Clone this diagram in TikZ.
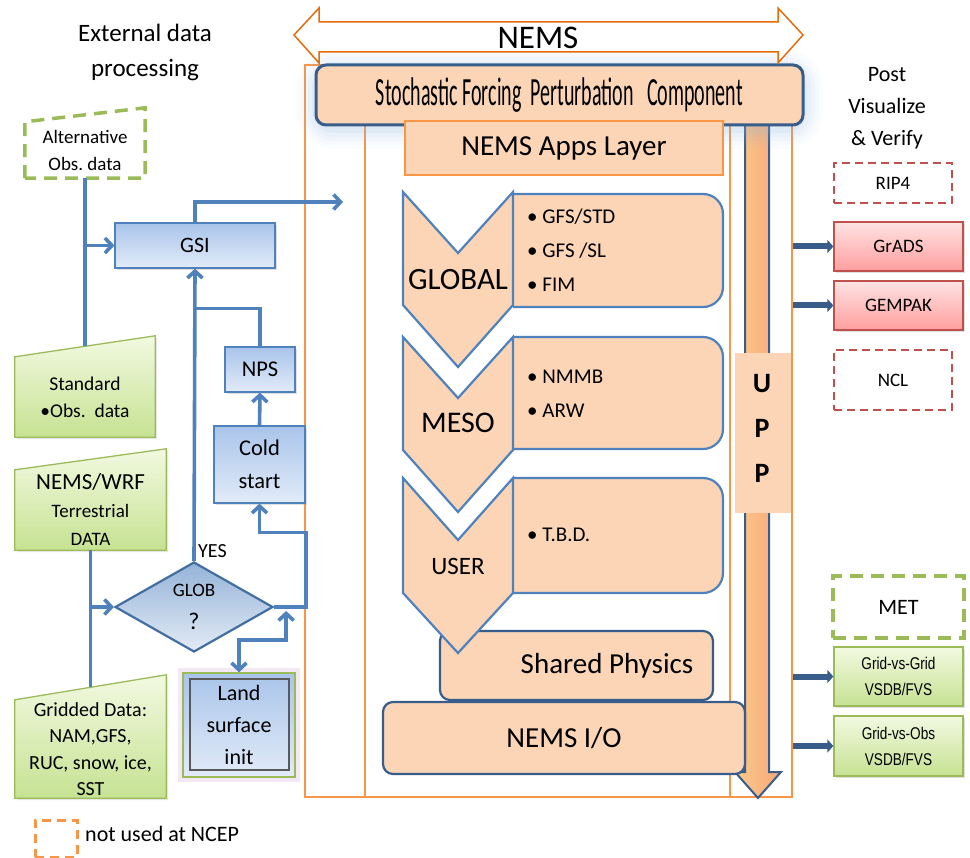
\documentclass[tikz,border=0pt]{standalone}
\usepackage{fontspec}
\setmainfont{Carlito}
\newfontfamily\arialf{Liberation Sans}
\usetikzlibrary{arrows.meta,shapes.geometric,calc,shadows}
\definecolor{orF}{HTML}{F79646}
\definecolor{orD}{HTML}{E46C0A}
\definecolor{peach}{HTML}{FBD5B5}
\definecolor{fblue}{HTML}{4F81BD}
\definecolor{dblue}{HTML}{385D8A}
\definecolor{gBorder}{HTML}{9BBB59}
\definecolor{gTop}{HTML}{F2F9E1}
\definecolor{gBot}{HTML}{C6E292}
\definecolor{bTop}{HTML}{A9C4EA}
\definecolor{bBot}{HTML}{E2EBF8}
\definecolor{rBorder}{HTML}{C0504D}
\definecolor{pTop}{HTML}{FFE3E3}
\definecolor{pBot}{HTML}{FF9E9E}
\definecolor{glowB}{HTML}{8DB4E2}
\definecolor{upL}{HTML}{FBCB8A}
\definecolor{upR}{HTML}{F9A678}
\definecolor{dTop}{HTML}{95B3D7}
\definecolor{dBot}{HTML}{E3EBF6}
\newcommand\fsz[1]{\fontsize{#1}{#1}\selectfont}
\newcommand\fsl[2]{\fontsize{#1}{#2}\selectfont}
\pgfdeclarelayer{bgl}
\pgfsetlayers{bgl,main}
\tikzset{
  frameline/.style={draw=orF, line width=2pt},
  flow/.style={draw=fblue, line width=3.6pt},
  fa/.style={-{Straight Barb[length=7pt,width=15pt]}},
  fab/.style={{Straight Barb[length=7pt,width=15pt]}-{Straight Barb[length=7pt,width=15pt]}},
  fat/.style={draw=dblue, line width=6pt, -{Triangle[length=6pt,width=13pt]}},
  bluebox/.style={draw=fblue, line width=1.2pt, top color=bTop, bottom color=bBot, inner sep=0pt, align=center,
    drop shadow={opacity=0.25, shadow xshift=2pt, shadow yshift=-2pt}},
  gshape/.style={draw=gBorder, line width=1.3pt, top color=gTop, bottom color=gBot},
  gtext/.style={inner sep=0pt, align=center},
  gdash/.style={draw=gBorder, line width=3.5pt, dash pattern=on 13pt off 8pt},
  rdash/.style={draw=rBorder, line width=2.5pt, dash pattern=on 8pt off 5pt, inner sep=0pt, font=\fsz{19}},
  pinkbox/.style={draw=rBorder, line width=1.3pt, top color=pTop, bottom color=pBot, inner sep=0pt, font=\fsz{19},
    drop shadow={opacity=0.25, shadow xshift=2pt, shadow yshift=-2pt}},
  greenbox/.style={draw=gBorder, line width=1.3pt, top color=gTop, bottom color=gBot, inner sep=0pt, align=center,
    font=\arialf\fsl{17}{26}, drop shadow={opacity=0.25, shadow xshift=2pt, shadow yshift=-2pt}},
  cbox/.style={draw=fblue, line width=2.2pt, fill=peach, rounded corners=20pt, inner sep=0pt},
  chev/.style={draw=fblue, line width=2.2pt, fill=peach, line join=miter},
  pbox/.style={draw=dblue, line width=2.2pt, fill=peach, rounded corners=10pt, inner sep=0pt},
  btxt/.style={inner sep=0pt, anchor=west, align=left, font=\fsl{21}{34}},
}
\begin{document}
\begin{tikzpicture}[x=1pt,y=-1pt]
\useasboundingbox (0,0) rectangle (970,858);

% ---------- NEMS frame ----------
\node[frameline, minimum width=487pt, minimum height=732pt, inner sep=0pt] (frame) at (548.5,431) {};
\node[frameline, minimum width=365pt, minimum height=672pt, inner sep=0pt] (inner) at (547.5,461) {};

% UPP arrow
\draw[draw=dblue, line width=2pt, left color=upL, right color=upR, line join=miter]
  (745,110) -- (769,110) -- (769,772) -- (781,772) -- (758,798) -- (735,772) -- (745,772) -- cycle;
\node[fill=peach, minimum width=56pt, minimum height=160pt, inner sep=0pt] (uppbox) at (763,433) {};
\node[align=center, font=\bfseries\fsl{28}{45}, inner sep=0pt] (upptxt) at (762,428) {U\\P\\P};

% glow + stochastic box
\foreach \w/\o in {40/0.035, 32/0.045, 24/0.06, 16/0.08, 8/0.1} {
  \draw[glowB, line width=\w pt, opacity=\o, rounded corners=18pt] (316,69) rectangle (803,129);
}
\node[draw=dblue, line width=3pt, fill=peach, rounded corners=10pt, minimum width=487pt, minimum height=60pt, inner sep=0pt]
  (sfpc) at (559.5,95) {\scalebox{0.5}[1]{\fsz{40}Stochastic Forcing\ \ Perturbation\ \ \ Component}};

% NEMS double arrow
\draw[draw=orD, line width=1.5pt, fill=white, line join=miter]
  (294,35) -- (319,8) -- (319,22) -- (778,22) -- (778,8) -- (803,35) -- (778,63) -- (778,52) -- (319,52) -- (319,63) -- cycle;
\node[font=\fsz{33}, inner sep=0pt] (nemst) at (538,38) {NEMS};

% Apps layer
\node[draw=orF, line width=1.5pt, fill=peach, minimum width=318pt, minimum height=54pt, inner sep=0pt, font=\fsz{29}]
  (apps) at (564,148) {NEMS Apps Layer};

% content boxes
\begin{scope}
\clip (513,0) rectangle (970,858);
\node[cbox, minimum width=270pt, minimum height=113pt] (globbox) at (588,250.5) {};
\node[cbox, minimum width=270pt, minimum height=112pt] (mesobox) at (588,393) {};
\node[cbox, minimum width=270pt, minimum height=115pt] (userbox) at (588,535.5) {};
\end{scope}
\node[btxt] (bglob) at (527,250) {\textbullet\ GFS/STD\\\textbullet\ GFS /SL\\\textbullet\ FIM};
\node[btxt] (bmeso) at (527,393.5) {\textbullet\ NMMB\\\textbullet\ ARW};
\node[btxt] (buser) at (527,535) {\textbullet\ T.B.D.};

% shared physics and I/O
\node[pbox, minimum width=273pt, minimum height=69pt, font=\fsz{29}] (shared) at (576.5,665.5) {\hspace*{61pt}Shared Physics};
\node[pbox, minimum width=362pt, minimum height=72pt, font=\fsz{29}] (nemsio) at (564,738) {NEMS I/O};

% chevrons
\draw[chev] (403,192) -- (458,253) -- (513,192) -- (513,305) -- (458,367) -- (403,305) -- cycle;
\draw[chev] (403,337) -- (458,398) -- (513,337) -- (513,450) -- (458,512) -- (403,450) -- cycle;
\draw[chev] (403,478) -- (458,540) -- (513,478) -- (513,593) -- (458,653) -- (403,593) -- cycle;
\node[font=\fsz{31}, inner sep=0pt] (tglob) at (458,280) {GLOBAL};
\node[font=\fsz{30}, inner sep=0pt] (tmeso) at (458,423) {MESO};
\node[font=\fsz{25}, inner sep=0pt] (tuser) at (458,566) {USER};

% ---------- left side ----------
\node[align=center, font=\fsl{25}{35}, inner sep=0pt] (ext) at (145,52) {External data\\processing};

\node[gtext, minimum width=120pt, minimum height=56pt, font=\fsl{19}{27}] (alt) at (85,150) {Alternative\\Obs.\ data};
\draw[gdash] (alt.south west) -- (alt.north west) -- ([yshift=14pt]alt.north east) -- (alt.south east) -- cycle;

\node[gtext, minimum width=140pt, minimum height=80pt, font=\fsl{19.5}{27}] (std) at (85,397) {Standard\\\textbullet Obs.\ \ data};
\node[gtext, minimum width=151pt, minimum height=80pt, font=\fsl{19}{28}] (wrf) at (90.5,510) {{\fsz{23}NEMS/WRF}\\Terrestrial\\DATA};
\node[gtext, minimum width=151pt, minimum height=98pt, font=\fsl{20}{26.5}] (grid) at (90.5,749) {Gridded Data:\\NAM,GFS,\\RUC, snow, ice,\\SST};
\begin{pgfonlayer}{bgl}
\draw[gshape, drop shadow={opacity=0.2, shadow xshift=2pt, shadow yshift=-2pt}] (std.south west) -- (std.north west) -- ([yshift=21pt]std.north east) -- (std.south east) -- cycle;
\draw[gshape, drop shadow={opacity=0.2, shadow xshift=2pt, shadow yshift=-2pt}] (wrf.south west) -- (wrf.north west) -- ([yshift=21pt]wrf.north east) -- (wrf.south east) -- cycle;
\draw[gshape, drop shadow={opacity=0.2, shadow xshift=2pt, shadow yshift=-2pt}] (grid.south west) -- (grid.north west) -- ([yshift=25pt]grid.north east) -- (grid.south east) -- cycle;
\end{pgfonlayer}

\node[bluebox, minimum width=160pt, minimum height=45pt, font=\fsz{22}] (gsi) at (195,245.5) {GSI};
\node[bluebox, minimum width=70pt, minimum height=45pt, font=\fsz{22.5}] (nps) at (260,369.5) {NPS};
\node[bluebox, minimum width=91pt, minimum height=77pt, font=\fsl{22.5}{33}] (cold) at (259.5,464.5) {Cold\\start};
\node[diamond, draw=fblue!85!black, line width=2.2pt, top color=dTop, bottom color=dBot, minimum width=158pt, minimum height=90pt,
  inner sep=0pt, align=center, font=\fsl{19}{33}] (glob) at (194,607) {GLOB\\{\fsz{24}?}};
\node[font=\fsz{20}, anchor=west, inner sep=0pt] (yes) at (198,551) {YES};

% land surface init
\draw[draw=violet!30, line width=10pt, opacity=0.3] (183,673) rectangle (295,777);
\node[draw=gBorder, line width=1.3pt, top color=bTop, bottom color=bBot, minimum width=112pt, minimum height=104pt,
  inner sep=0pt, align=center, font=\fsl{22}{32}] (land) at (239,725) {Land\\surface\\init};
\draw[draw=black!65, line width=2pt] ([shift={(8pt,8pt)}]land.south west) rectangle ([shift={(-7pt,-7pt)}]land.north east);

% connectors
\coordinate (stdtop) at ($(std.north)+(0,-10.5)$);
\draw[flow] (alt.south) -- (stdtop);
\draw[flow,fa] (alt.south |- gsi.west) -- (gsi.west);
\coordinate (nemsin) at (343,202);
\draw[flow,fa] (gsi.north) |- (nemsin);
\draw[flow,fa] (glob.north) -- (gsi.south);
\draw[flow] (nps.north) |- ($(gsi.south)+(0,40)$);
\draw[flow,fa] (cold.north) -- (nps.south);
\draw[flow,fa] (glob.east) -- ++(32,0) |- ($(cold.south)+(0,29)$) -- (cold.south);
\coordinate (lsr) at ($(glob.east)+(12,4)$);
\draw[flow,fab] (lsr) -- ++(0,29) -| (land.north);
\coordinate (gridtop) at ($(grid.north)+(0,-12.5)$);
\draw[flow] (wrf.south) -- (gridtop);
\draw[flow,fa] (wrf.south |- glob.west) -- (glob.west);

% legend
\node[draw=orF, line width=3pt, dash pattern=on 9pt off 6pt, minimum width=42pt, minimum height=37pt, inner sep=0pt] (leg) at (56,838.5) {};
\node[anchor=west, font=\fsz{22}, inner sep=0pt] (legtxt) at (85,834) {not used at NCEP};

% ---------- right side ----------
\node[align=center, font=\fsl{22}{32}, inner sep=0pt] (post) at (887,108) {Post\\Visualize\\\& Verify};
\node[rdash, minimum width=118pt, minimum height=40pt] (rip) at (893,183) {RIP4};
\node[pinkbox, minimum width=129pt, minimum height=49pt] (grads) at (898.5,246.5) {GrADS};
\node[pinkbox, minimum width=129pt, minimum height=49pt] (gempak) at (898.5,305.5) {GEMPAK};
\node[rdash, minimum width=118pt, minimum height=60pt] (ncl) at (893,380) {NCL};
\node[gdash, minimum width=131pt, minimum height=62pt, inner sep=0pt, font=\fsz{22}] (met) at (898.5,607) {MET};
\node[greenbox, minimum width=129pt, minimum height=59pt] (gvg) at (898.5,676.5) {\scalebox{0.8}[1]{Grid-vs-Grid}\\\scalebox{0.8}[1]{VSDB/FVS}};
\node[greenbox, minimum width=129pt, minimum height=60pt] (gvo) at (898.5,746) {\scalebox{0.8}[1]{Grid-vs-Obs}\\\scalebox{0.8}[1]{VSDB/FVS}};

\draw[fat] (frame.east |- grads.west) -- (grads.west);
\draw[fat] (frame.east |- gempak.west) -- (gempak.west);
\draw[fat] (frame.east |- gvg.west) -- (gvg.west);
\draw[fat] (frame.east |- gvo.west) -- (gvo.west);
\end{tikzpicture}
\end{document}
